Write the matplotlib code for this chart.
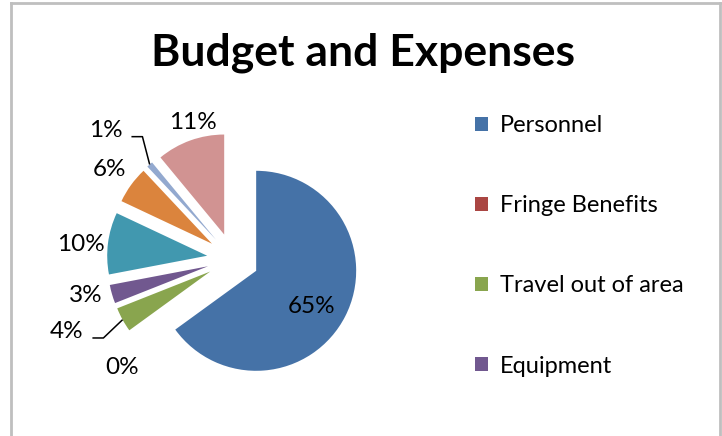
import numpy as np
import matplotlib
matplotlib.use('Agg')
import matplotlib.pyplot as plt
from matplotlib.lines import Line2D

plt.rcParams['font.family'] = ['Lato', 'DejaVu Sans']

# Chart data
categories = ['Personnel', 'Fringe Benefits', 'Travel out of area', 'Equipment',
              'Supplies', 'Contractual', 'Other', 'Indirect Costs']
values = [65, 0, 4, 3, 10, 6, 1, 11]
pct_labels = ['65%', '0%', '4%', '3%', '10%', '6%', '1%', '11%']
colors = ['#4572A7', '#AA4643', '#89A54E', '#71588F',
          '#4198AF', '#DB843D', '#93A9CF', '#D19392']

W, H = 722, 436
fig = plt.figure(figsize=(W / 100, H / 100), dpi=100)
ax = fig.add_axes([0, 0, 1, 1])

# pie in pixel units (y up)
cx, cy = 233, H - 259
R = 100
expl = 26
wedges, _ = ax.pie(values, colors=colors, startangle=90, counterclock=False,
                   radius=R, center=(cx, cy), explode=[expl] * len(values),
                   wedgeprops=dict(linewidth=0), frame=True)
ax.set_xlim(0, W)
ax.set_ylim(0, H)
ax.set_aspect('auto')
ax.axis('off')

# label placement: distance from wedge tip (in radii) and angle nudge (deg)
label_dist = [0.66, 1.29, 1.56, 1.26, 1.27, 1.27, 1.55, 1.16]
label_nudge = [-6, 10, -6, -3, 2, 0, 4, -4]
for i, w in enumerate(wedges):
    mid = np.deg2rad((w.theta1 + w.theta2) / 2)
    tx0, ty0 = w.center
    ang = mid + np.deg2rad(label_nudge[i])
    lx = tx0 + label_dist[i] * R * np.cos(ang)
    ly = ty0 + label_dist[i] * R * np.sin(ang)
    ax.text(lx, ly, pct_labels[i], fontsize=17.5, ha='center', va='center',
            color='#000000')
    # leader lines for the crowded small slices
    if pct_labels[i] in ('1%', '4%'):
        ex = tx0 + R * np.cos(mid)
        ey = ty0 + R * np.sin(mid)
        sx = lx + 26
        sy = ly - 6
        kx = sx + 11
        ax.plot([sx, kx, ex], [sy, sy, ey], color='black', lw=1.1,
                solid_capstyle='butt')

ax.text(363, H - 53, 'Budget and Expenses', fontsize=32, fontweight='bold',
        ha='center', va='center')

leg = ax.legend(wedges[:4], categories[:4], loc='upper left',
                bbox_to_anchor=(466 / W, 1 - 106 / H), bbox_transform=fig.transFigure,
                frameon=False, fontsize=17, handlelength=0.55, handleheight=0.55,
                handletextpad=0.5, labelspacing=2.5, borderaxespad=0)

# chart frame
frame_kw = dict(color='#BFBFBF', lw=2, transform=fig.transFigure)
fig.add_artist(Line2D([11 / W, 11 / W], [0, 1 - 3 / H], **frame_kw))
fig.add_artist(Line2D([11 / W, 720 / W], [1 - 3 / H, 1 - 3 / H], **frame_kw))
fig.add_artist(Line2D([720 / W, 720 / W], [0, 1 - 3 / H], **frame_kw))

fig.savefig('out.png', dpi=100)
